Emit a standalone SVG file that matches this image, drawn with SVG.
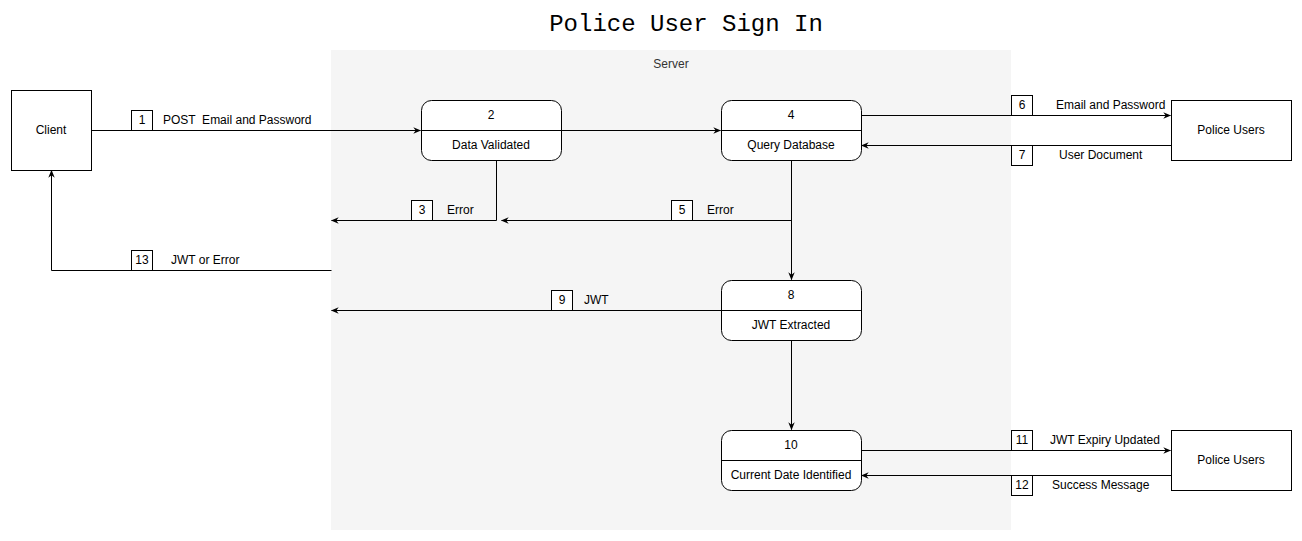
<svg xmlns="http://www.w3.org/2000/svg" width="1302" height="541" viewBox="0 0 1302 541">
<defs>
<marker id="arr" viewBox="0 0 10 10" refX="9" refY="5" markerWidth="8" markerHeight="8" markerUnits="userSpaceOnUse" orient="auto">
<path d="M0,1 L10,5 L0,9 L3,5 Z" fill="#000"/>
</marker>
<style>
text{font-family:"Liberation Sans",Arial,sans-serif;font-size:12px;fill:#000;dominant-baseline:central}
.c{text-anchor:middle}
.t{font-family:"Liberation Mono","Courier New",monospace;font-size:24px}
.box{fill:#fff;stroke:#000;stroke-width:1}
.num{fill:#fff;stroke:#000;stroke-width:1}
.ln{fill:none;stroke:#000;stroke-width:1}
.ar{fill:none;stroke:#000;stroke-width:1;marker-end:url(#arr)}
</style>
</defs>
<rect width="1302" height="541" fill="#fff"/>
<text class="t c" x="686" y="24">Police User Sign In</text>
<g id="server">
<rect x="331" y="50" width="680" height="480" fill="#f5f5f5"/>
<text class="c" x="671" y="64" style="fill:#333">Server</text>
</g>
<g id="connectors">
<path class="ar" d="M91.5,130.5 H420.5"/>
<path class="ar" d="M561.5,130.5 H720.5"/>
<path class="ar" d="M496.5,160.5 V220.5 H331.5"/>
<path class="ar" d="M791.5,160.5 V279.5"/>
<path class="ar" d="M791.5,220.5 H501.5"/>
<path class="ar" d="M861.5,115.5 H1170.5"/>
<path class="ar" d="M1171.5,145.5 H861.5"/>
<path class="ar" d="M721.5,310.5 H331.5"/>
<path class="ar" d="M331.5,270.5 H51.5 V170.5"/>
<path class="ar" d="M791.5,340.5 V429.5"/>
<path class="ar" d="M861.5,450.5 H1170.5"/>
<path class="ar" d="M1171.5,475.5 H861.5"/>
<rect class="num" x="131.5" y="110.5" width="21" height="20"/><text class="c" x="142" y="120">1</text>
<text x="163" y="120" xml:space="preserve" style="white-space:pre">POST  Email and Password</text>
<rect class="num" x="411.5" y="200.5" width="21" height="20"/><text class="c" x="422" y="210">3</text>
<text x="447" y="210">Error</text>
<rect class="num" x="671.5" y="200.5" width="21" height="20"/><text class="c" x="682" y="210">5</text>
<text x="707" y="210">Error</text>
<rect class="num" x="1011.5" y="95.5" width="21" height="20"/><text class="c" x="1022" y="105">6</text>
<text x="1056" y="105">Email and Password</text>
<rect class="num" x="1011.5" y="145.5" width="21" height="20"/><text class="c" x="1022" y="155">7</text>
<text x="1059" y="155">User Document</text>
<rect class="num" x="551.5" y="290.5" width="21" height="20"/><text class="c" x="562" y="300">9</text>
<text x="584" y="300">JWT</text>
<rect class="num" x="131.5" y="250.5" width="21" height="20"/><text class="c" x="142" y="260">13</text>
<text x="171" y="260">JWT or Error</text>
<rect class="num" x="1011.5" y="430.5" width="21" height="20"/><text class="c" x="1022" y="440">11</text>
<text x="1050" y="440">JWT Expiry Updated</text>
<rect class="num" x="1011.5" y="475.5" width="21" height="20"/><text class="c" x="1022" y="485">12</text>
<text x="1052" y="485">Success Message</text>
</g>
<g id="client">
<rect class="box" x="11.5" y="90.5" width="80" height="80"/>
<text class="c" x="51" y="130">Client</text>
</g>
<g id="node2">
<rect class="box" x="421.5" y="100.5" width="140" height="60" rx="10"/>
<path class="ln" d="M421.5,130.5 H561.5"/>
<text class="c" x="491" y="115">2</text>
<text class="c" x="491" y="145">Data Validated</text>
</g>
<g id="node4">
<rect class="box" x="721.5" y="100.5" width="140" height="60" rx="10"/>
<path class="ln" d="M721.5,130.5 H861.5"/>
<text class="c" x="791" y="115">4</text>
<text class="c" x="791" y="145">Query Database</text>
</g>
<g id="node8">
<rect class="box" x="721.5" y="280.5" width="140" height="60" rx="10"/>
<path class="ln" d="M721.5,310.5 H861.5"/>
<text class="c" x="791" y="295">8</text>
<text class="c" x="791" y="325">JWT Extracted</text>
</g>
<g id="node10">
<rect class="box" x="721.5" y="430.5" width="140" height="60" rx="10"/>
<path class="ln" d="M721.5,460.5 H861.5"/>
<text class="c" x="791" y="445">10</text>
<text class="c" x="791" y="475">Current Date Identified</text>
</g>
<g id="police1">
<rect class="box" x="1171.5" y="100.5" width="120" height="60"/>
<text class="c" x="1231" y="130">Police Users</text>
</g>
<g id="police2">
<rect class="box" x="1171.5" y="430.5" width="120" height="60"/>
<text class="c" x="1231" y="460">Police Users</text>
</g>
</svg>
